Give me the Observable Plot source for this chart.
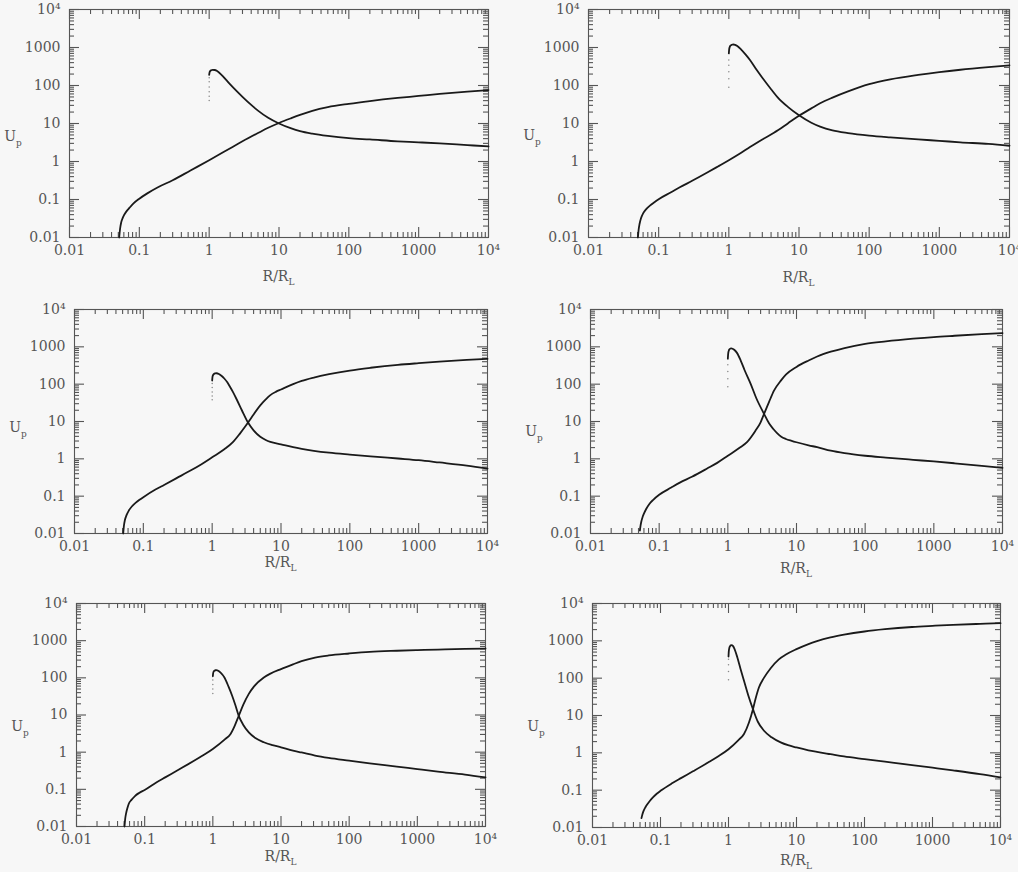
<!DOCTYPE html>
<html>
<head>
<meta charset="utf-8">
<script src="https://cdn.jsdelivr.net/npm/d3@7"></script>
<script src="https://cdn.jsdelivr.net/npm/@observablehq/plot@0.6"></script>
<style>
  html, body { margin: 0; padding: 0; background: #f7f7f7; }
  body { width: 1018px; height: 872px; position: relative; overflow: hidden; }
  .panel { position: absolute; }
</style>
</head>
<body>
<div id="root"></div>
<script>
// ---- tick values ----
const majorTicks = [0.01, 0.1, 1, 10, 100, 1000, 10000];
const minorMult = [2, 3, 4, 5, 6, 7, 8, 9];
const minorTicks = [0.01, 0.1, 1, 10, 100, 1000].flatMap(d => minorMult.map(m => m * d));
const tickLabel = d => d === 10000 ? "10⁴" : String(d);

// ---- panel 1 ----
const p1RiseX = [0.0515, 0.053, 0.055, 0.0575, 0.0605, 0.065, 0.072, 0.0826, 0.1, 0.13, 0.182, 0.3, 0.54, 1, 1.89, 3, 5, 7, 10, 15, 20, 30, 50, 100, 200, 500, 1000, 2000, 5000, 10000];
const p1RiseY = [0.01, 0.017, 0.025, 0.032, 0.039, 0.048, 0.06, 0.079, 0.105, 0.145, 0.207, 0.32, 0.58, 1.08, 2.1, 3.4, 5.6, 7.7, 10.3, 13.8, 16.8, 21.5, 27, 33, 39, 47, 53, 60, 69, 76];
const p1FallX = [1.0, 1.01, 1.03, 1.07, 1.12, 1.2, 1.3, 1.5, 1.75, 2, 2.5, 3, 4, 5, 7, 10, 15, 20, 30, 50, 100, 200, 500, 1000, 2000, 5000, 10000];
const p1FallY = [190, 215, 238, 252, 258, 256, 240, 191, 140, 107, 70, 50.4, 30.9, 21.8, 14.1, 10.0, 7.4, 6.3, 5.4, 4.7, 4.1, 3.8, 3.4, 3.2, 3.0, 2.7, 2.5];
const p1Dots = [40, 52, 68, 92, 125, 160];

// ---- panel 2 ----
const p2RiseX = [0.0506, 0.0518, 0.0535, 0.056, 0.06, 0.066, 0.075, 0.087, 0.1, 0.15, 0.2, 0.3, 0.5, 0.7, 1, 1.5, 2, 3, 5, 7, 10, 15, 20, 30, 50, 100, 200, 500, 1000, 2000, 5000, 10000];
const p2RiseY = [0.01, 0.016, 0.023, 0.032, 0.043, 0.055, 0.069, 0.085, 0.102, 0.155, 0.21, 0.31, 0.52, 0.74, 1.08, 1.7, 2.4, 3.8, 6.6, 10.2, 16, 25, 34, 48, 70, 108, 145, 190, 225, 260, 305, 340];
const p2FallX = [1.0, 1.01, 1.03, 1.06, 1.1, 1.16, 1.23, 1.32, 1.5, 1.75, 2, 2.5, 3, 4, 5, 7, 10, 15, 20, 30, 50, 100, 200, 500, 1000, 2000, 5000, 10000];
const p2FallY = [700, 880, 1030, 1130, 1180, 1200, 1170, 1090, 880, 640, 470, 255, 160, 80, 48, 27, 16.5, 10.5, 8.3, 6.6, 5.6, 4.8, 4.3, 3.8, 3.5, 3.2, 2.9, 2.6];
const p2Dots = [90, 150, 230, 340, 470];

// ---- panel 3 ----
const p3RiseX = [0.051, 0.0522, 0.054, 0.057, 0.0615, 0.068, 0.077, 0.088, 0.1, 0.15, 0.2, 0.3, 0.5, 0.7, 1, 1.5, 2, 2.5, 3, 3.5, 4, 5, 6, 7, 8.5, 10, 15, 20, 30, 50, 100, 200, 500, 1000, 2000, 5000, 10000];
const p3RiseY = [0.01, 0.016, 0.023, 0.031, 0.041, 0.053, 0.066, 0.08, 0.094, 0.15, 0.2, 0.3, 0.5, 0.72, 1.1, 1.8, 2.8, 4.6, 7.2, 10.8, 15.5, 27, 39, 51, 63, 72, 100, 122, 150, 185, 232, 275, 330, 365, 400, 445, 476];
const p3FallX = [1.0, 1.01, 1.03, 1.06, 1.1, 1.16, 1.25, 1.35, 1.5, 1.66, 1.85, 2, 2.32, 2.7, 3.3, 4, 5, 6, 7, 10, 15, 20, 30, 50, 100, 200, 500, 1000, 2000, 5000, 10000];
const p3FallY = [125, 155, 175, 187, 194, 196, 188, 170, 142, 112, 80, 62, 36, 20, 9.5, 5.8, 3.9, 3.2, 2.85, 2.45, 2.05, 1.85, 1.64, 1.46, 1.3, 1.17, 1.02, 0.92, 0.8, 0.66, 0.55];
const p3Dots = [38, 48, 62, 82, 105];

// ---- panel 4 ----
const p4RiseX = [0.0524, 0.0535, 0.055, 0.0575, 0.06, 0.065, 0.072, 0.082, 0.1, 0.15, 0.2, 0.3, 0.5, 0.7, 1, 1.5, 1.9, 2.5, 3, 3.37, 4, 4.7, 6, 7, 10, 15, 20, 31.6, 50, 100, 200, 500, 1000, 2000, 5000, 10000];
const p4RiseY = [0.012, 0.016, 0.021, 0.028, 0.034, 0.046, 0.062, 0.08, 0.109, 0.17, 0.23, 0.33, 0.55, 0.78, 1.21, 2.0, 2.8, 5.5, 9.5, 16, 34, 67, 128, 180, 290, 430, 550, 740, 930, 1200, 1400, 1650, 1830, 1980, 2180, 2330];
const p4FallX = [1.0, 1.01, 1.03, 1.06, 1.09, 1.12, 1.17, 1.25, 1.35, 1.54, 1.75, 2.15, 2.6, 3.37, 4, 4.6, 5.26, 6, 7, 8.5, 10, 15, 20, 31.6, 50, 100, 200, 500, 1000, 2000, 5000, 10000];
const p4FallY = [480, 640, 780, 865, 900, 910, 890, 820, 700, 430, 240, 102, 42, 16, 8.8, 6.3, 4.8, 3.9, 3.4, 3.03, 2.78, 2.3, 2.05, 1.65, 1.42, 1.21, 1.08, 0.94, 0.85, 0.76, 0.65, 0.57];
const p4Dots = [85, 140, 220, 330];

// ---- panel 5 ----
const p5RiseX = [0.0506, 0.0518, 0.0535, 0.056, 0.0585, 0.064, 0.072, 0.083, 0.1, 0.15, 0.2, 0.3, 0.5, 0.7, 1, 1.5, 1.82, 2.1, 2.4, 2.8, 3.37, 4, 5.6, 7, 10, 15, 20, 31.6, 50, 100, 200, 500, 1000, 2000, 5000, 10000];
const p5RiseY = [0.01, 0.016, 0.023, 0.032, 0.041, 0.052, 0.066, 0.08, 0.096, 0.155, 0.21, 0.32, 0.55, 0.8, 1.22, 2.2, 3.1, 5.2, 9.5, 19, 37, 58, 102, 130, 172, 230, 280, 350, 400, 452, 500, 535, 556, 575, 600, 615];
const p5FallX = [1.0, 1.01, 1.03, 1.06, 1.09, 1.13, 1.2, 1.3, 1.48, 1.7, 1.92, 2.15, 2.4, 2.8, 3.37, 4.2, 5.6, 7.5, 10, 15, 20, 31.6, 50, 100, 200, 500, 1000, 2000, 5000, 10000];
const p5FallY = [110, 132, 148, 156, 160, 161, 155, 138, 102, 58, 33, 18, 9.5, 5.4, 3.4, 2.4, 1.85, 1.55, 1.35, 1.1, 0.98, 0.81, 0.7, 0.59, 0.5, 0.41, 0.35, 0.3, 0.25, 0.21];
const p5Dots = [38, 50, 66, 88];

// ---- panel 6 ----
const p6RiseX = [0.0525, 0.054, 0.056, 0.06, 0.064, 0.07, 0.078, 0.088, 0.1, 0.15, 0.2, 0.3, 0.5, 0.7, 1, 1.4, 1.69, 2.0, 2.29, 2.5, 2.8, 3.3, 4.17, 5.5, 7, 10, 15, 20, 31.6, 50, 100, 200, 500, 1000, 2000, 5000, 10000];
const p6RiseY = [0.0178, 0.022, 0.027, 0.035, 0.042, 0.052, 0.065, 0.08, 0.096, 0.155, 0.21, 0.32, 0.55, 0.8, 1.25, 2.2, 3.2, 6.5, 14.8, 28, 56, 100, 185, 320, 430, 598, 820, 980, 1230, 1460, 1780, 2050, 2350, 2520, 2680, 2850, 2970];
const p6FallX = [1.0, 1.01, 1.03, 1.06, 1.08, 1.11, 1.16, 1.22, 1.35, 1.5, 1.69, 1.95, 2.29, 2.7, 3.33, 4.3, 5.85, 7.5, 10, 15, 20, 31.6, 50, 100, 200, 500, 1000, 2000, 5000, 10000];
const p6FallY = [380, 520, 650, 725, 755, 766, 730, 620, 358, 180, 85, 35, 14.8, 6.8, 3.9, 2.6, 1.9, 1.6, 1.39, 1.17, 1.06, 0.92, 0.8, 0.68, 0.58, 0.47, 0.40, 0.34, 0.27, 0.22];
const p6Dots = [90, 150, 230, 320];

// ---- layout (page positions of each frame) ----
const panels = [
  {frame: [69, 9, 488, 237],     xt: 281, yt: 141, riseX: p1RiseX, riseY: p1RiseY, fallX: p1FallX, fallY: p1FallY, dots: p1Dots},
  {frame: [588, 9, 1009, 237],   xt: 282, yt: 140, riseX: p2RiseX, riseY: p2RiseY, fallX: p2FallX, fallY: p2FallY, dots: p2Dots},
  {frame: [74, 309, 487, 533],   xt: 567, yt: 432, riseX: p3RiseX, riseY: p3RiseY, fallX: p3FallX, fallY: p3FallY, dots: p3Dots},
  {frame: [590, 309, 1002, 533], xt: 573, yt: 436, riseX: p4RiseX, riseY: p4RiseY, fallX: p4FallX, fallY: p4FallY, dots: p4Dots},
  {frame: [76, 603, 485, 826],   xt: 861, yt: 731, riseX: p5RiseX, riseY: p5RiseY, fallX: p5FallX, fallY: p5FallY, dots: p5Dots},
  {frame: [592, 603, 1000, 827], xt: 865, yt: 731, riseX: p6RiseX, riseY: p6RiseY, fallX: p6FallX, fallY: p6FallY, dots: p6Dots}
];

const FONT = "DejaVu Serif";
const TXT = "#555";
const TICK = "#555";
const LO = 0.01, HI = 10000;
const root = document.getElementById("root");

panels.forEach(p => {
  const mL = 72, mT = 14, mR = 20, mB = 62;
  const [x0, y0, x1, y1] = p.frame;
  const fw = x1 - x0, fh = y1 - y0;
  const W = fw + mL + mR, H = fh + mT + mB;
  const rise = p.riseX.map((x, i) => ({x, y: p.riseY[i]}));
  const fall = p.fallX.map((x, i) => ({x, y: p.fallY[i]}));
  // tick length (pixels) expressed as a ratio along each log axis (6 decades)
  const kx = len => Math.pow(10, len / (fw / 6));
  const ky = len => Math.pow(10, len / (fh / 6));
  const tickMarks = [[majorTicks, 10], [minorTicks, 5]].flatMap(([vals, len]) => [
    Plot.ruleX(vals, {x: d => d, y1: LO, y2: LO * ky(len), stroke: TICK, strokeWidth: 1.1}),
    Plot.ruleX(vals, {x: d => d, y1: HI / ky(len), y2: HI, stroke: TICK, strokeWidth: 1.1}),
    Plot.ruleY(vals, {y: d => d, x1: LO, x2: LO * kx(len), stroke: TICK, strokeWidth: 1.1}),
    Plot.ruleY(vals, {y: d => d, x1: HI / kx(len), x2: HI, stroke: TICK, strokeWidth: 1.1})
  ]);
  const chart = Plot.plot({
    width: W, height: H,
    marginLeft: mL, marginRight: mR, marginTop: mT, marginBottom: mB,
    style: {background: "transparent", fontFamily: FONT, fontSize: "14px", color: TXT, overflow: "visible"},
    x: {type: "log", domain: [LO, HI], label: null},
    y: {type: "log", domain: [LO, HI], label: null},
    marks: [
      ...tickMarks,
      Plot.axisX({ticks: majorTicks, tickSize: 0, tickPadding: 8, tickFormat: tickLabel, label: null, fill: TXT}),
      Plot.axisY({ticks: majorTicks, tickSize: 0, tickPadding: 9, tickFormat: tickLabel, label: null, fill: TXT}),
      Plot.frame({stroke: "#555", strokeWidth: 1.1}),
      Plot.dot(p.dots, {x: () => 1, y: d => d, r: 0.75, fill: "#888", stroke: null}),
      Plot.line(rise, {x: "x", y: "y", curve: "monotone-x", stroke: "#1a1a1a", strokeWidth: 1.8}),
      Plot.line(fall, {x: "x", y: "y", curve: "monotone-x", stroke: "#1a1a1a", strokeWidth: 1.8})
    ]
  });
  const left = x0 - mL, top = y0 - mT;
  chart.classList.add("panel");
  chart.style.left = left + "px";
  chart.style.top = top + "px";
  root.appendChild(chart);

  const svg = d3.select(chart);
  // x title R/R_L
  const xt = svg.append("text")
    .attr("x", (x0 + x1) / 2 - left)
    .attr("y", p.xt - top)
    .attr("text-anchor", "middle")
    .attr("font-family", FONT).attr("font-size", 14).attr("fill", TXT);
  xt.append("tspan").text("R/R");
  xt.append("tspan").attr("dy", 4).attr("font-size", 9).text("L");
  // y title U_p
  const yt = svg.append("text")
    .attr("x", x0 - 56 - left)
    .attr("y", p.yt - top)
    .attr("font-family", FONT).attr("font-size", 14).attr("fill", TXT);
  yt.append("tspan").text("U");
  yt.append("tspan").attr("dy", 5).attr("font-size", 9).text("p");
});
</script>
</body>
</html>
